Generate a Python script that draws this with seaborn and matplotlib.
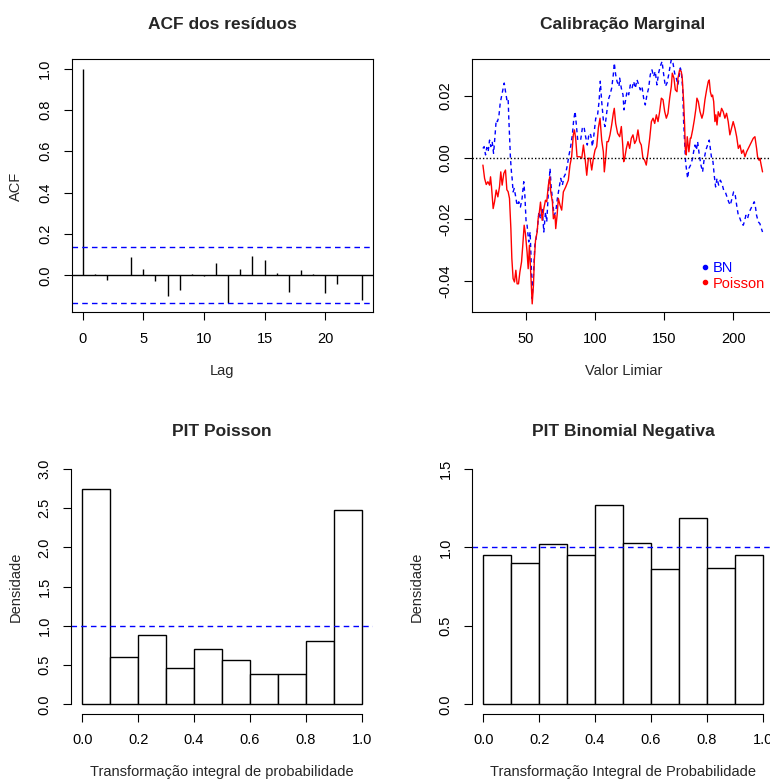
import numpy as np
import pandas as pd
import seaborn as sns
import matplotlib.pyplot as plt
from matplotlib.lines import Line2D

# ACF dos residuos
lags = list(range(0, 24))
acf_vals = [1.0, 0.004, -0.021, 0.003, 0.088, 0.031, -0.026, -0.098, -0.069, 0.006,
            -0.002, 0.059, -0.133, 0.031, 0.093, 0.074, 0.011, -0.079, 0.026, 0.006,
            -0.084, -0.040, 0.002, -0.121]
acf_ci = 0.135

# Calibracao marginal - Poisson
mc_x_pois = [19.0, 20.2, 21.4, 22.6, 23.8, 24.5, 25.2, 26.4, 27.4, 28.6, 29.8, 31.0, 31.9, 32.9, 34.1,
             35.3, 36.3, 37.2, 38.2, 39.2, 39.9, 40.8, 41.8, 42.8, 43.7, 44.7, 45.7, 46.9, 47.8, 48.8,
             49.7, 50.9, 51.7, 52.6, 53.6, 54.6, 55.5, 56.2, 57.0, 58.2, 58.9, 59.8, 60.6, 61.8, 63.0,
             64.2, 65.1, 66.3, 67.3, 68.0, 69.2, 69.9, 71.1, 71.6, 72.6, 73.5, 74.7, 75.9, 77.1, 78.8,
             80.7, 81.9, 83.1, 84.3, 85.1, 86.0, 87.0, 88.0, 89.2, 90.4, 91.6, 92.8, 94.0, 95.2, 96.4,
             97.6, 98.8, 100.0, 101.2, 102.4, 103.6, 104.8, 106.0, 106.7, 107.7, 108.6, 109.6, 110.8,
             112.0, 113.2, 113.9, 114.9, 116.3, 117.8, 119.0, 120.0, 120.7, 121.4, 122.6, 123.8, 125.0,
             126.2, 127.4, 128.6, 129.8, 131.0, 132.2, 133.4, 134.6, 135.8, 137.0, 138.2, 139.5, 140.7,
             141.9, 143.1, 144.3, 145.5, 146.7, 147.9, 149.1, 150.3, 151.5, 152.7, 153.9, 155.1, 155.8,
             157.0, 158.0, 159.2, 159.9, 161.1, 162.3, 163.0, 164.0, 164.7, 165.2, 165.9, 166.6, 167.8,
             168.8, 169.3, 170.5, 171.7, 172.9, 173.6, 174.6, 175.8, 177.2, 178.2, 179.4, 180.6, 181.8,
             182.5, 183.3, 184.2, 184.9, 185.7, 186.6, 187.3, 188.1, 189.0, 190.2, 191.4, 192.6, 193.8,
             195.0, 196.2, 197.4, 198.6, 199.8, 201.1, 202.3, 203.5, 204.7, 205.9, 207.1, 208.3, 209.5,
             210.7, 211.9, 213.1, 214.3, 215.5, 216.7, 217.4, 218.4, 219.1, 219.8, 221.0]
mc_pois = [-0.0024, -0.0067, -0.0087, -0.0078, -0.0089, -0.0062, -0.0094, -0.0165, -0.0143, -0.0105,
           -0.0127, -0.0094, -0.0046, -0.0089, -0.0051, -0.0040, -0.0104, -0.0110, -0.0132, -0.0230,
           -0.0327, -0.0392, -0.0403, -0.0365, -0.0409, -0.0409, -0.0371, -0.0338, -0.0284, -0.0219,
           -0.0246, -0.0306, -0.0360, -0.0284, -0.0382, -0.0474, -0.0414, -0.0327, -0.0268, -0.0241,
           -0.0198, -0.0176, -0.0144, -0.0203, -0.0165, -0.0138, -0.0143, -0.0089, -0.0062, -0.0111,
           -0.0143, -0.0198, -0.0186, -0.0230, -0.0186, -0.0132, -0.0154, -0.0170, -0.0111, -0.0095,
           -0.0073, -0.0024, 0.0003, 0.0074, 0.0090, 0.0063, 0.0003, 0.0003, 0.0003, -0.0002,
           0.0041, -0.0002, -0.0057, -0.0002, -0.0002, -0.0040, -0.0002, 0.0025, 0.0036, 0.0096,
           0.0128, 0.0057, 0.0019, -0.0046, -0.0002, 0.0052, 0.0052, 0.0074, 0.0106, 0.0144,
           0.0160, 0.0111, 0.0079, 0.0068, 0.0101, 0.0041, -0.0013, -0.0002, 0.0030, 0.0052,
           0.0030, 0.0063, 0.0074, 0.0046, 0.0057, 0.0090, 0.0052, 0.0041, -0.0002, -0.0008,
           -0.0024, 0.0014, 0.0063, 0.0117, 0.0128, 0.0111, 0.0139, 0.0117, 0.0150, 0.0193,
           0.0188, 0.0150, 0.0128, 0.0144, 0.0193, 0.0231, 0.0274, 0.0258, 0.0220, 0.0214,
           0.0258, 0.0285, 0.0279, 0.0258, 0.0182, 0.0106, 0.0030, 0.0009, 0.0068, 0.0019,
           0.0063, 0.0063, 0.0090, 0.0122, 0.0160, 0.0193, 0.0182, 0.0150, 0.0128, 0.0144,
           0.0188, 0.0220, 0.0247, 0.0252, 0.0214, 0.0198, 0.0203, 0.0182, 0.0117, 0.0139,
           0.0106, 0.0149, 0.0133, 0.0160, 0.0149, 0.0128, 0.0144, 0.0117, 0.0074, 0.0095,
           0.0117, 0.0095, 0.0068, 0.0030, 0.0041, 0.0014, 0.0025, 0.0003, 0.0019, 0.0030,
           0.0041, 0.0052, 0.0063, 0.0068, 0.0030, 0.0003, -0.0008, -0.0002, -0.0019, -0.0046]

# Calibracao marginal - Binomial Negativa
mc_x_bn = [19.0, 19.9, 20.9, 21.8, 22.8, 23.8, 24.7, 25.7, 26.7, 27.6, 28.6, 29.5, 30.5, 31.5, 32.4,
           33.4, 34.4, 35.3, 36.3, 37.2, 37.7, 38.2, 38.9, 39.6, 40.1, 40.8, 41.6, 42.5, 43.7, 44.9,
           46.1, 47.3, 48.5, 49.3, 50.2, 50.9, 52.1, 53.1, 53.8, 54.6, 55.5, 56.5, 57.4, 58.4, 59.4,
           60.6, 61.8, 63.0, 64.2, 65.1, 66.3, 67.5, 68.2, 69.2, 70.4, 71.6, 72.8, 74.0, 75.2, 76.4,
           77.6, 78.8, 80.0, 81.2, 82.4, 83.6, 84.6, 85.6, 86.5, 87.5, 88.4, 89.6, 90.8, 92.0, 93.2,
           94.4, 95.7, 96.9, 98.1, 99.3, 100.5, 101.7, 102.9, 103.8, 104.8, 106.0, 107.2, 108.4,
           109.6, 110.8, 112.0, 113.2, 113.9, 114.9, 115.9, 117.3, 117.8, 119.0, 120.2, 120.9, 121.9,
           123.1, 124.3, 125.5, 126.7, 127.9, 129.1, 130.3, 131.5, 132.7, 133.9, 135.1, 136.3, 137.5,
           138.7, 139.9, 141.1, 142.3, 143.5, 144.7, 145.9, 147.1, 148.4, 149.6, 150.8, 152.0, 153.2,
           154.4, 155.1, 156.3, 157.5, 158.7, 159.9, 160.9, 161.6, 162.3, 163.3, 164.0, 164.7, 165.4,
           166.1, 166.9, 167.8, 169.0, 170.5, 171.2, 172.2, 173.2, 174.1, 175.3, 176.5, 177.7, 178.9,
           180.1, 181.3, 182.5, 183.3, 184.2, 185.2, 186.1, 187.1, 188.1, 189.3, 190.5, 191.7, 192.9,
           194.1, 195.3, 196.5, 197.7, 198.9, 200.1, 201.3, 202.3, 203.5, 204.7, 205.9, 207.1, 207.8,
           209.0, 210.2, 211.4, 212.6, 213.8, 215.0, 215.7, 216.7, 217.9, 219.1, 219.8, 221.0]
mc_bn = [0.0030, 0.0036, 0.0009, 0.0033, 0.0020, 0.0057, 0.0036, 0.0052, 0.0014, 0.0063,
         0.0122, 0.0117, 0.0133, 0.0177, 0.0198, 0.0220, 0.0242, 0.0215, 0.0188, 0.0193,
         0.0128, 0.0074, -0.0002, -0.0046, -0.0067, -0.0111, -0.0100, -0.0122, -0.0155, -0.0143,
         -0.0160, -0.0132, -0.0078, -0.0122, -0.0208, -0.0219, -0.0273, -0.0241, -0.0327, -0.0457,
         -0.0381, -0.0284, -0.0262, -0.0230, -0.0176, -0.0198, -0.0165, -0.0241, -0.0176, -0.0208,
         -0.0111, -0.0035, -0.0089, -0.0132, -0.0187, -0.0176, -0.0132, -0.0100, -0.0067, -0.0089,
         -0.0062, -0.0051, -0.0024, 0.0009, 0.0036, 0.0074, 0.0123, 0.0150, 0.0106, 0.0057,
         0.0057, 0.0057, 0.0095, 0.0101, 0.0068, 0.0041, 0.0079, 0.0074, 0.0036, 0.0079,
         0.0128, 0.0133, 0.0182, 0.0248, 0.0182, 0.0122, 0.0101, 0.0144, 0.0188, 0.0204,
         0.0225, 0.0269, 0.0307, 0.0269, 0.0247, 0.0231, 0.0258, 0.0225, 0.0204, 0.0155,
         0.0182, 0.0215, 0.0204, 0.0236, 0.0225, 0.0247, 0.0225, 0.0253, 0.0236, 0.0220,
         0.0231, 0.0193, 0.0171, 0.0204, 0.0225, 0.0269, 0.0285, 0.0263, 0.0280, 0.0236,
         0.0274, 0.0296, 0.0312, 0.0269, 0.0231, 0.0242, 0.0269, 0.0302, 0.0318, 0.0307,
         0.0274, 0.0258, 0.0236, 0.0269, 0.0291, 0.0280, 0.0225, 0.0117, 0.0052, -0.0013,
         -0.0040, -0.0067, -0.0035, -0.0024, -0.0002, 0.0019, 0.0041, 0.0025, 0.0052, 0.0009,
         -0.0024, -0.0046, -0.0002, 0.0025, 0.0041, 0.0057, 0.0030, -0.0002, -0.0013, -0.0057,
         -0.0095, -0.0067, -0.0089, -0.0073, -0.0084, -0.0105, -0.0111, -0.0127, -0.0143, -0.0154,
         -0.0132, -0.0111, -0.0122, -0.0154, -0.0187, -0.0197, -0.0214, -0.0219, -0.0208, -0.0187,
         -0.0197, -0.0176, -0.0165, -0.0154, -0.0143, -0.0154, -0.0187, -0.0208, -0.0214, -0.0225,
         -0.0241]

# PIT histograms (densidade por classe)
pit_edges = [0.0, 0.1, 0.2, 0.3, 0.4, 0.5, 0.6, 0.7, 0.8, 0.9, 1.0]
pit_pois = [2.74, 0.60, 0.88, 0.46, 0.70, 0.57, 0.38, 0.38, 0.81, 2.48]
pit_bn = [0.95, 0.90, 1.02, 0.95, 1.27, 1.03, 0.86, 1.19, 0.87, 0.95]

sns.set_style("ticks")
plt.rcParams["font.family"] = ["Liberation Sans", "DejaVu Sans"]

W, H = 770, 779
fig = plt.figure(figsize=(W / 100, H / 100), dpi=100)


def box(l, t, r, b):
    return fig.add_axes([l / W, 1 - b / H, (r - l) / W, (b - t) / H])


def style(ax, full=True):
    ax.tick_params(direction="out", length=6, width=0.8, pad=8, labelsize=10.5, colors="black")
    for lab in ax.get_yticklabels():
        lab.set_rotation(90)
        lab.set_va("center")
    for s in ax.spines.values():
        s.set_color("black")
        s.set_linewidth(0.8)
    if not full:
        ax.spines["top"].set_visible(False)
        ax.spines["right"].set_visible(False)


blue = "#0000FF"
red = "#FF0000"
dash = (0, (4, 3))
lab_fs = 10.5
top_title = dict(fontsize=12.5, fontweight="bold", pad=22)
bot_title = dict(fontsize=12.5, fontweight="bold", pad=17)

# --- ACF
ax1 = box(71.5, 59.3, 372.7, 312.5)
ax1.vlines(lags, 0, acf_vals, color="black", lw=1.0)
ax1.axhline(0, color="black", lw=1.0)
ax1.axhline(acf_ci, color=blue, lw=1.0, ls=dash)
ax1.axhline(-acf_ci, color=blue, lw=1.0, ls=dash)
ax1.set_xlim(-0.92, 23.92)
ax1.set_ylim(-0.18, 1.045)
ax1.set_xticks([0, 5, 10, 15, 20])
ax1.set_yticks(np.arange(0, 1.01, 0.2))
ax1.set_yticklabels([f"{v:.1f}" for v in np.arange(0, 1.01, 0.2)])
style(ax1)
ax1.set_title("ACF dos resíduos", **top_title)
ax1.set_xlabel("Lag", fontsize=lab_fs, labelpad=13)
ax1.set_ylabel("ACF", fontsize=lab_fs, labelpad=11)

# --- Calibracao marginal
ax2 = box(471.7, 59.3, 775, 312.5)
dpois = pd.DataFrame({"x": mc_x_pois, "y": mc_pois})
dbn = pd.DataFrame({"x": mc_x_bn, "y": mc_bn})
sns.lineplot(data=dbn, x="x", y="y", ax=ax2, color=blue, lw=1.0, linestyle=(0, (3, 2.5)),
             estimator=None, sort=False)
sns.lineplot(data=dpois, x="x", y="y", ax=ax2, color=red, lw=1.0, estimator=None, sort=False)
ax2.axhline(0, color="black", lw=1.0, ls=(0, (1, 1.5)))
ax2.set_xlim(10.9, 230)
ax2.set_ylim(-0.0502, 0.0319)
ax2.set_xticks([50, 100, 150, 200])
ax2.set_yticks([-0.04, -0.02, 0.0, 0.02])
ax2.set_yticklabels(["-0.04", "-0.02", "0.00", "0.02"])
style(ax2)
ax2.set_title("Calibração Marginal", x=(372.7 - 71.5) / 2 / (775 - 471.7), **top_title)
ax2.set_xlabel("Valor Limiar", fontsize=lab_fs, labelpad=13)
ax2.set_ylabel("")
handles = [Line2D([], [], color=blue, marker=".", ls="none", markersize=6),
           Line2D([], [], color=red, marker=".", ls="none", markersize=6)]
ax2.legend(handles, ["BN", "Poisson"], loc="center left", bbox_to_anchor=(0.755, 0.145),
           frameon=False, handlelength=0.6, handletextpad=0.2, labelspacing=0.1,
           borderpad=0, borderaxespad=0, labelcolor=[blue, red], fontsize=lab_fs)

mids = [(a + b) / 2 for a, b in zip(pit_edges[:-1], pit_edges[1:])]

# --- PIT Poisson
ax3 = box(71.1, 459.6, 372.9, 713.7)
sns.histplot(x=mids, weights=pit_pois, bins=pit_edges, stat="count", ax=ax3,
             color="white", edgecolor="black", linewidth=1.0, alpha=1)
ax3.axhline(1.0, color=blue, lw=1.0, ls=dash)
ax3.set_xlim(-0.04, 1.04)
ax3.set_ylim(-0.12, 3.12)
ax3.set_xticks(np.arange(0, 1.01, 0.2))
ax3.set_xticklabels([f"{v:.1f}" for v in np.arange(0, 1.01, 0.2)])
ax3.set_yticks(np.arange(0, 3.01, 0.5))
ax3.set_yticklabels([f"{v:.1f}" for v in np.arange(0, 3.01, 0.5)])
style(ax3, full=False)
ax3.spines["left"].set_bounds(0, 3)
ax3.spines["bottom"].set_bounds(0, 1)
ax3.set_title("PIT Poisson", **bot_title)
ax3.set_xlabel("Transformação integral de probabilidade", fontsize=lab_fs, labelpad=13)
ax3.set_ylabel("Densidade", fontsize=lab_fs, labelpad=11)

# --- PIT Binomial Negativa
ax4 = box(472.1, 459.6, 773.9, 713.7)
sns.histplot(x=mids, weights=pit_bn, bins=pit_edges, stat="count", ax=ax4,
             color="white", edgecolor="black", linewidth=1.0, alpha=1)
ax4.axhline(1.0, color=blue, lw=1.0, ls=dash)
ax4.set_xlim(-0.04, 1.04)
ax4.set_ylim(-0.06, 1.56)
ax4.set_xticks(np.arange(0, 1.01, 0.2))
ax4.set_xticklabels([f"{v:.1f}" for v in np.arange(0, 1.01, 0.2)])
ax4.set_yticks([0, 0.5, 1.0, 1.5])
ax4.set_yticklabels(["0.0", "0.5", "1.0", "1.5"])
style(ax4, full=False)
ax4.spines["left"].set_bounds(0, 1.5)
ax4.spines["bottom"].set_bounds(0, 1)
ax4.set_title("PIT Binomial Negativa", **bot_title)
ax4.set_xlabel("Transformação Integral de Probabilidade", fontsize=lab_fs, labelpad=13)
ax4.set_ylabel("Densidade", fontsize=lab_fs, labelpad=11)

fig.savefig("out.png", dpi=100, facecolor="white")
